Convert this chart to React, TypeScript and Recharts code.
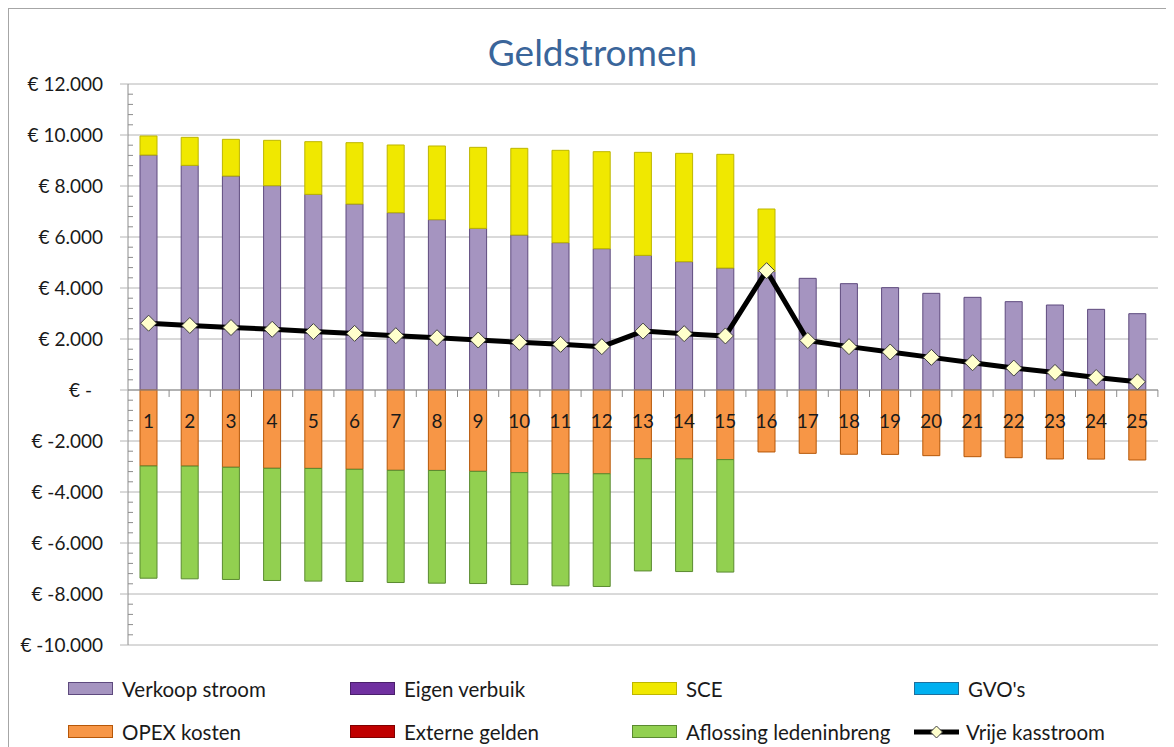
import React from 'react';
import {
  Bar,
  CartesianGrid,
  ComposedChart,
  LabelList,
  Line,
  ReferenceLine,
  XAxis,
  YAxis,
} from 'recharts';

// Jaren 1..25
const years = ['1', '2', '3', '4', '5', '6', '7', '8', '9', '10', '11', '12', '13', '14', '15', '16', '17', '18', '19', '20', '21', '22', '23', '24', '25'];

const verkoopStroom = [9216, 8810, 8392, 8013, 7673, 7294, 6954, 6680, 6340, 6078, 5778, 5542, 5281, 5033, 4784, 4650, 4379, 4170, 4013, 3791, 3634, 3464, 3333, 3163, 2993];
const eigenVerbuik = [0, 0, 0, 0, 0, 0, 0, 0, 0, 0, 0, 0, 0, 0, 0, 0, 0, 0, 0, 0, 0, 0, 0, 0, 0];
const sce = [745, 1098, 1438, 1778, 2065, 2405, 2654, 2889, 3176, 3399, 3621, 3804, 4039, 4248, 4458, 2448, 0, 0, 0, 0, 0, 0, 0, 0, 0];
const gvos = [0, 0, 0, 0, 0, 0, 0, 0, 0, 0, 0, 0, 0, 0, 0, 0, 0, 0, 0, 0, 0, 0, 0, 0, 0];
const opexKosten = [-2980, -2985, -3030, -3070, -3075, -3110, -3150, -3155, -3190, -3240, -3280, -3285, -2695, -2700, -2730, -2430, -2485, -2520, -2525, -2575, -2615, -2655, -2705, -2710, -2745];
const externeGelden = [0, 0, 0, 0, 0, 0, 0, 0, 0, 0, 0, 0, 0, 0, 0, 0, 0, 0, 0, 0, 0, 0, 0, 0, 0];
const aflossingLedeninbreng = [-4400, -4420, -4400, -4400, -4420, -4400, -4400, -4420, -4400, -4390, -4400, -4420, -4400, -4420, -4410, 0, 0, 0, 0, 0, 0, 0, 0, 0, 0];
const vrijeKasstroom = [2620, 2530, 2450, 2380, 2290, 2220, 2130, 2050, 1960, 1870, 1790, 1700, 2310, 2210, 2120, 4680, 1940, 1700, 1490, 1280, 1070, 860, 690, 490, 320];

const yTicks = [-10000, -8000, -6000, -4000, -2000, 0, 2000, 4000, 6000, 8000, 10000, 12000];
const minorStep = 400;

const data = years.map((year, i) => ({
  year,
  verkoop: verkoopStroom[i],
  eigen: eigenVerbuik[i],
  sce: sce[i],
  gvo: gvos[i],
  opex: opexKosten[i],
  extern: externeGelden[i],
  aflossing: aflossingLedeninbreng[i],
  vrij: vrijeKasstroom[i],
}));

const minorTicks: number[] = [];
for (let v = yTicks[0] + minorStep; v < yTicks[yTicks.length - 1]; v += minorStep) {
  if (v % 2000 !== 0) minorTicks.push(v);
}

const FONT = 'Lato, "Open Sans", sans-serif';
const AXIS_GREY = '#8c8c8c';
const GRID_GREY = '#b4b4b4';

const CHART_W = 1165;
const CHART_H = 740;
const MARGIN = { top: 75, right: 16, bottom: 102, left: 0 };
const Y_AXIS_W = 119;
const PLOT_W = CHART_W - MARGIN.left - MARGIN.right - Y_AXIS_W;
const BAND = PLOT_W / years.length;

const series = [
  { key: 'verkoop', name: 'Verkoop stroom', fill: '#A594C0', stroke: '#5E4A7E' },
  { key: 'eigen', name: 'Eigen verbuik', fill: '#7030A0', stroke: '#4A1F6B' },
  { key: 'sce', name: 'SCE', fill: '#F0E800', stroke: '#BDB600' },
  { key: 'gvo', name: "GVO's", fill: '#00B0F0', stroke: '#1F6F9C' },
  { key: 'opex', name: 'OPEX kosten', fill: '#F79646', stroke: '#B65708' },
  { key: 'extern', name: 'Externe gelden', fill: '#C00000', stroke: '#800000' },
  { key: 'aflossing', name: 'Aflossing ledeninbreng', fill: '#92D050', stroke: '#5A8A30' },
];

const formatEuro = (v: number) => {
  if (v === 0) return '€ -\u2007';
  const s = Math.abs(v).toString().replace(/\B(?=(\d{3})+(?!\d))/g, '.');
  return `€ ${v < 0 ? '-' : ''}${s}`;
};

const Diamond = (props: any) => {
  const { cx, cy, index } = props;
  if (cx == null || cy == null) return null;
  const r = 8;
  return (
    <polygon
      key={`d-${index}`}
      points={`${cx},${cy - r} ${cx + r},${cy} ${cx},${cy + r} ${cx - r},${cy}`}
      fill="#FFFFCC"
      stroke="#404040"
      strokeWidth={1}
    />
  );
};

// year number under the zero line, plus the little boundary ticks of the category axis
const YearLabel = (props: any) => {
  const { x, y, width, height, value, index } = props;
  const zeroY = Math.min(y, y + height);
  const cx = x + width / 2;
  const last = index === years.length - 1;
  return (
    <g>
      {index > 0 && <line x1={cx - BAND / 2} x2={cx - BAND / 2} y1={zeroY} y2={zeroY + 7} stroke={AXIS_GREY} />}
      {last && <line x1={cx + BAND / 2} x2={cx + BAND / 2} y1={zeroY} y2={zeroY + 7} stroke={AXIS_GREY} />}
      <text
        x={cx}
        y={zeroY + 30}
        textAnchor="middle"
        dominantBaseline="central"
        fontFamily={FONT}
        fontSize={19}
        fill="#1a1a1a"
      >
        {value}
      </text>
    </g>
  );
};

const MinorTick = (props: any) => {
  const { x1, y1 } = props;
  return <line x1={x1} x2={x1 + 5} y1={y1} y2={y1} stroke={AXIS_GREY} />;
};

const LegendBox = () => (
  <div
    style={{
      position: 'absolute',
      left: 59,
      top: 658,
      display: 'grid',
      gridTemplateColumns: 'repeat(4, 282px)',
      gridAutoRows: '43px',
      fontFamily: FONT,
      fontSize: 20.5,
      color: '#1a1a1a',
    }}
  >
    {series.map((s) => (
      <div key={s.key} style={{ display: 'flex', alignItems: 'center' }}>
        <span
          style={{
            width: 43,
            height: 11,
            background: s.fill,
            border: `1px solid ${s.stroke}`,
            marginRight: 9,
          }}
        />
        <span>{s.name}</span>
      </div>
    ))}
    <div style={{ display: 'flex', alignItems: 'center' }}>
      <svg width={48} height={16} style={{ marginRight: 4 }}>
        <line x1={0} x2={45} y1={8} y2={8} stroke="#000" strokeWidth={5} />
        <polygon points="22.5,2 28.5,8 22.5,14 16.5,8" fill="#FFFFCC" stroke="#404040" strokeWidth={1} />
      </svg>
      <span>Vrije kasstroom</span>
    </div>
  </div>
);

export default function App() {
  return (
    <div
      style={{
        position: 'relative',
        width: 1166,
        height: CHART_H,
        borderTop: '1px solid #a6a6a6',
        borderLeft: '1px solid #a6a6a6',
        background: '#fff',
      }}
    >
      <style>{'body{overflow:hidden}'}</style>
      <div
        style={{
          position: 'absolute',
          left: 0,
          width: CHART_W + 2,
          top: 22,
          textAlign: 'center',
          fontFamily: FONT,
          fontSize: 37,
          lineHeight: '42px',
          color: '#3A659A',
        }}
      >
        Geldstromen
      </div>
      <ComposedChart
        width={CHART_W}
        height={CHART_H}
        data={data}
        margin={MARGIN}
        stackOffset="sign"
        style={{ position: 'absolute', left: 0, top: 0 }}
      >
        <CartesianGrid vertical={false} stroke={GRID_GREY} />
        <XAxis dataKey="year" axisLine={false} tickLine={false} tick={false} height={2} />
        <YAxis
          domain={[yTicks[0], yTicks[yTicks.length - 1]]}
          ticks={yTicks}
          interval={0}
          width={Y_AXIS_W}
          tickSize={8}
          tickMargin={17}
          tickFormatter={formatEuro}
          axisLine={{ stroke: AXIS_GREY }}
          tickLine={{ stroke: GRID_GREY }}
          tick={{ fontSize: 19, fontFamily: FONT, fill: '#1a1a1a' }}
        />
        {minorTicks.map((v) => (
          <ReferenceLine key={`m${v}`} y={v} shape={(p: any) => <MinorTick {...p} />} />
        ))}
        <ReferenceLine y={0} stroke={AXIS_GREY} />
        {series.map((s) => (
          <Bar
            key={s.key}
            dataKey={s.key}
            name={s.name}
            stackId="a"
            barSize={17}
            fill={s.fill}
            stroke={s.stroke}
            strokeWidth={1}
            isAnimationActive={false}
          >
            {s.key === 'opex' && <LabelList dataKey="year" content={(p: any) => <YearLabel {...p} />} />}
          </Bar>
        ))}
        <Line
          dataKey="vrij"
          name="Vrije kasstroom"
          type="linear"
          stroke="#000"
          strokeWidth={5}
          strokeLinejoin="round"
          dot={(p: any) => <Diamond {...p} />}
          activeDot={false}
          isAnimationActive={false}
        />
      </ComposedChart>
      <LegendBox />
    </div>
  );
}
